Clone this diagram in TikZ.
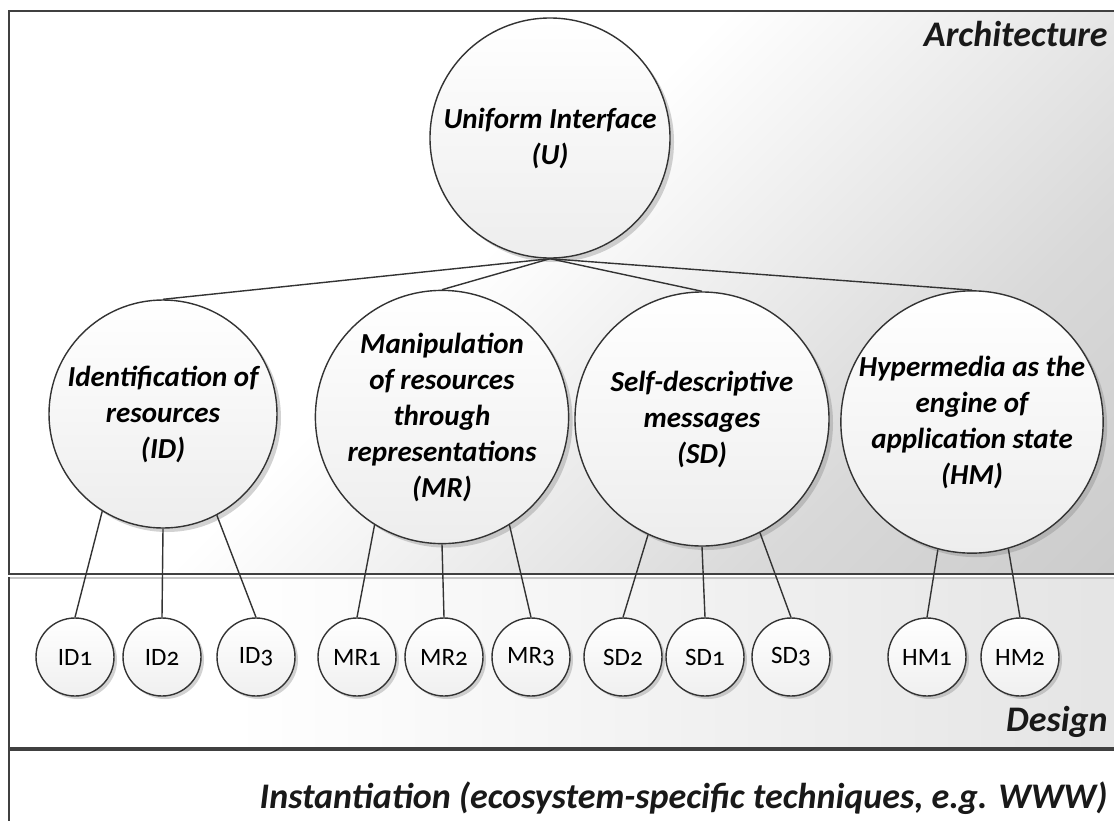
\documentclass[tikz,border=0pt]{standalone}
\usepackage{fontspec}
\setmainfont{Carlito}
\usepackage{tikz}
\usetikzlibrary{shadows,positioning}

\pgfdeclareverticalshading{archshade}{100bp}{color(0bp)=(gray!50); color(30bp)=(gray!30); color(55bp)=(white); color(100bp)=(white)}
\pgfdeclarehorizontalshading{designshade}{100bp}{color(0bp)=(white); color(35bp)=(white); color(100bp)=(gray!34)}

\begin{document}
\begin{tikzpicture}[x=0.5pt, y=-0.5pt,
  layer/.style={draw=black!75, line width=1.4pt},
  topic/.style={circle, draw=black!80, line width=0.7pt, top color=white, bottom color=gray!14,
    drop shadow={shadow xshift=2pt, shadow yshift=-2pt, opacity=0.35},
    align=center, inner sep=0pt, font=\fontsize{14.5}{18}\selectfont\bfseries\itshape},
  leaf/.style={circle, draw=black!80, line width=0.7pt, top color=white, bottom color=gray!12,
    drop shadow={shadow xshift=1.5pt, shadow yshift=-1.5pt, opacity=0.35},
    minimum size=39pt, inner sep=0pt, font=\fontsize{12.5}{14}\selectfont\addfontfeature{Numbers=OldStyle}},
  tier/.style={anchor=east, inner sep=0pt, text=black!90, font=\fontsize{18}{21}\selectfont\bfseries\itshape},
  edge/.style={draw=black!80, line width=0.7pt}
]
\useasboundingbox (0,0) rectangle (1114,820);

% Layers
\draw[layer, shading=archshade, shading angle=45] (9,11) rectangle (1120,574);
\draw[layer, shading=designshade] (9,578) rectangle (1120,748);
\draw[draw=gray!45, line width=1pt] (10,578) -- (1120,578);
\draw[layer, fill=white] (9,750) rectangle (1120,830);

\node[tier] (arch) at (1108,34) {Architecture};
\node[tier] (design) at (1108,722) {Design};
\node[tier] (inst) at (1108,798) {Instantiation (ecosystem-specific techniques, e.g. WWW)};

% Uniform interface and its constraints
\node[topic, minimum size=120pt] (U) at (550,138) {Uniform Interface\\(U)};
\node[topic, minimum size=114pt] (ID) at (163,414) {Identification of\\resources\\(ID)};
\node[topic, minimum size=118pt] (MR) at (442,417) {Manipulation\\of resources\\through\\representations\\(MR)};
\node[topic, minimum size=127pt] (SD) at (702,419) {Self-descriptive\\messages\\(SD)};
\node[topic, minimum size=128pt] (HM) at (972,422) {Hypermedia as the\\engine of\\application state\\(HM)};

\foreach \c in {ID,MR,SD,HM}
  \draw[edge] (U.south) -- (\c.north);

% Design-level elements
\foreach \n/\x in {ID1/75, ID2/162, ID3/256, MR1/357, MR2/444, MR3/531,
                   SD2/623, SD1/705, SD3/791, HM1/927, HM2/1020}
  \node[leaf] (\n) at (\x,657) {\n};

\foreach \p/\a/\c in {ID/-122/ID1, ID/-90/ID2, ID/-62/ID3,
                      MR/-122/MR1, MR/-90/MR2, MR/-58/MR3,
                      SD/-115/SD2, SD/-90/SD1, SD/-63/SD3,
                      HM/-105/HM1, HM/-74/HM2}
  \draw[edge] (\p.\a) -- (\c.north);
\end{tikzpicture}
\end{document}
